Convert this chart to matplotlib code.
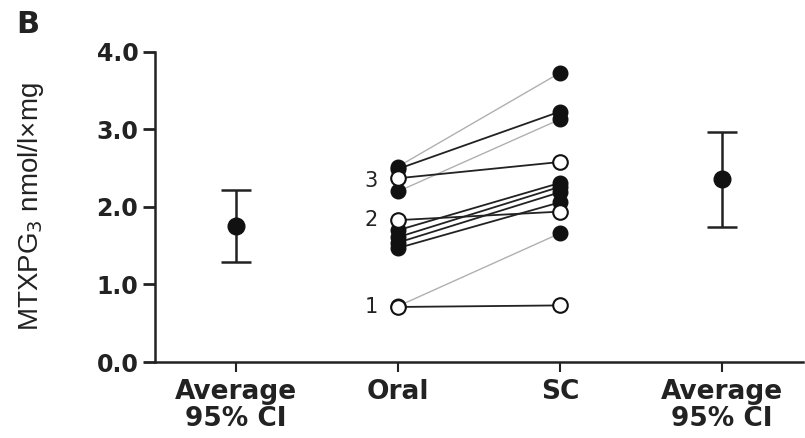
import matplotlib.pyplot as plt

# group means with 95% CI (oral / sc)
avg_mean = [1.76, 2.36]
avg_low = [1.29, 1.74]
avg_high = [2.22, 2.97]

# paired values per patient
oral = [2.52, 2.49, 2.20, 2.37, 1.83, 0.71, 0.72, 1.70, 1.61, 1.54, 1.47]
sc = [3.73, 3.23, 3.13, 2.58, 1.94, 0.73, 1.66, 2.31, 2.26, 2.19, 2.06]
open_pt = [False, False, False, True, True, True, False, False, False, False, False]
gray_line = [True, False, True, False, False, False, True, False, False, False, False]

# numbered patients (label, oral value)
num_labels = ['3', '2', '1']
num_values = [2.33, 1.83, 0.71]

tick_labels = ['Average\n95% CI', 'Oral', 'SC', 'Average\n95% CI']

plt.rcParams['font.family'] = ['DejaVu Sans']

fig = plt.figure(figsize=(8.05, 4.38), dpi=100)
ax = fig.add_axes([0.1925, 0.1735, 0.805, 0.708])

# lines between oral and sc
for o, s, g in zip(oral, sc, gray_line):
    if g:
        ax.plot([1, 2], [o, s], color='#b0b0b0', lw=1.0, zorder=1)
    else:
        ax.plot([1, 2], [o, s], color='#222222', lw=1.3, zorder=2)

# filled first, then open on top
for o, s, op in zip(oral, sc, open_pt):
    if not op:
        ax.plot([1, 2], [o, s], ls='none', marker='o', ms=10.5,
                mfc='#111111', mec='#111111', zorder=3)
for o, s, op in zip(oral, sc, open_pt):
    if op:
        ax.plot([1, 2], [o, s], ls='none', marker='o', ms=10.5,
                mfc='white', mec='#111111', mew=1.5, zorder=4)

for lab, v in zip(num_labels, num_values):
    ax.text(0.875, v, lab, ha='right', va='center', fontsize=15, color='#222222')

# averages with CI
for x, m, lo, hi in zip([0, 3], avg_mean, avg_low, avg_high):
    ax.errorbar([x], [m], yerr=[[m - lo], [hi - m]], fmt='o', ms=12,
                color='#111111', ecolor='#222222', elinewidth=1.8,
                capsize=11, capthick=1.8, zorder=5)

ax.set_xlim(-0.5, 3.5)
ax.set_ylim(0, 4)
ax.set_xticks([0, 1, 2, 3])
ax.set_xticklabels(tick_labels, fontsize=19, fontweight='bold', color='#222222',
                   linespacing=1.05)
ax.set_yticks([0, 1, 2, 3, 4])
ax.set_yticklabels(['0.0', '1.0', '2.0', '3.0', '4.0'], fontsize=17,
                   fontweight='bold', color='#222222')
ax.spines['top'].set_visible(False)
ax.spines['right'].set_visible(False)
ax.spines['left'].set_linewidth(1.8)
ax.spines['bottom'].set_linewidth(1.8)
ax.spines['left'].set_color('#222222')
ax.spines['bottom'].set_color('#222222')
ax.tick_params(axis='y', length=9, width=2, pad=3, color='#222222')
ax.tick_params(axis='x', length=7, width=1.5, pad=5, color='#222222')
ax.set_ylabel('MTXPG$_3$ nmol/l\u00d7mg', fontsize=20, color='#222222',
              family=['Liberation Sans', 'DejaVu Sans'])
ax.yaxis.set_label_coords(-0.168, 0.5)

fig.text(0.02, 0.925, 'B', fontsize=22, fontweight='bold', color='#222222')

fig.savefig('out.png', dpi=100)
